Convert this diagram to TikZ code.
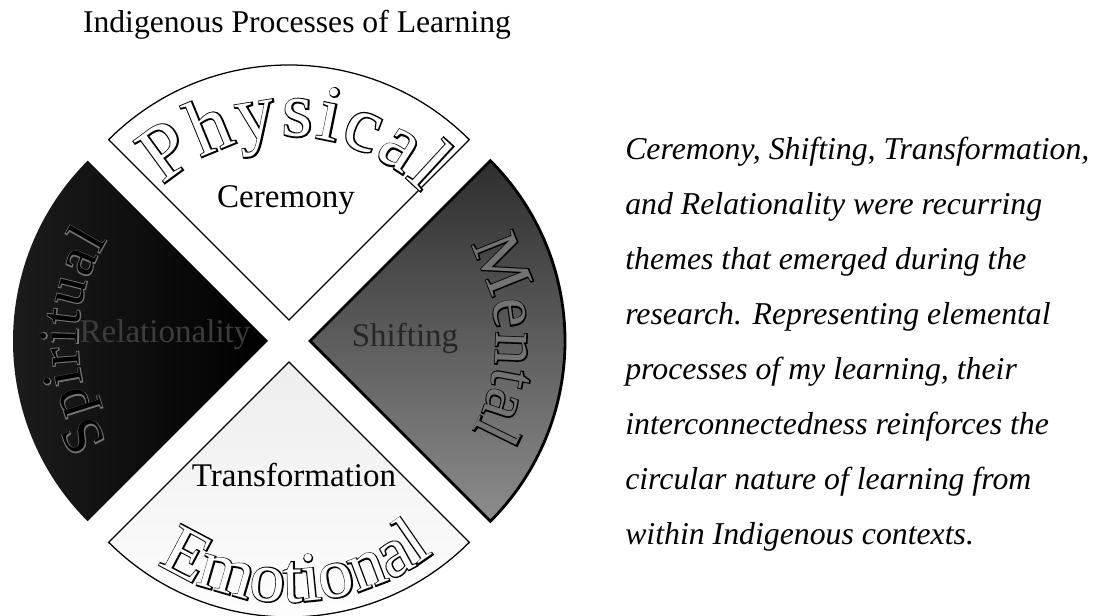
\documentclass[tikz,border=0pt]{standalone}
\usepackage{fontspec}
\setmainfont{Liberation Serif}
\newfontfamily\rimfat[FakeBold=3.5]{Liberation Serif}
\usetikzlibrary{decorations.text}

% rim letters: a stroked copy underneath, a plain copy on top
\newcommand{\rimthick}[1]{\rimfat\fontsize{#1}{#1}\selectfont}
\newcommand{\rimthin}[1]{\fontsize{#1}{#1}\selectfont}

\begin{document}
\begin{tikzpicture}[x=0.025cm,y=0.025cm,
    quarter/.style={draw=black,line width=0.9pt},
    theme/.style={anchor=base,inner sep=0pt,font=\fontsize{23.5}{27}\selectfont},
    para/.style={anchor=base west,inner sep=0pt,font=\fontsize{22.6}{26}\selectfont\itshape},
    arcword/.style={decorate,decoration={text along path,text align=fit to path,text={#1}}}]
  \useasboundingbox (0,0) rectangle (1096,616);

  \node (title) [anchor=base,inner sep=0pt,font=\fontsize{22.5}{26}\selectfont] at (297,583) {Indigenous Processes of Learning};

  % tips of the four quarters
  \coordinate (pt) at (289,296);
  \coordinate (pr) at (310,275);
  \coordinate (pb) at (289,254);
  \coordinate (pl) at (268,275);

  \path[quarter,fill=white] (pt) -- ++(45:255) arc[start angle=45,end angle=135,radius=255] -- cycle;
  \shadedraw[quarter,line width=2pt,top color=black!82,bottom color=black!45] (pr) -- ++(-45:255) arc[start angle=-45,end angle=45,radius=255] -- cycle;
  \shadedraw[quarter,top color=black!7,bottom color=white] (pb) -- ++(225:255) arc[start angle=225,end angle=315,radius=255] -- cycle;
  \shade[left color=black!88,right color=black] (pl) -- ++(135:255) arc[start angle=135,end angle=225,radius=255] -- cycle;

  % words round the rim
  \path[arcword={|\rimthick{56}\color{black}|Physical},shift={(pt)}] (133:184) arc[start angle=133,end angle=44,radius=184];
  \path[arcword={|\rimthin{56}\color{white}|Physical},shift={(pt)}] (133:184) arc[start angle=133,end angle=44,radius=184];
  \path[arcword={|\rimthick{47}\color{black}|Mental},shift={(pr)}] (31:186) arc[start angle=31,end angle=-29,radius=186];
  \path[arcword={|\rimthin{47}\color{black!55}|Mental},shift={(pr)}] (31:186) arc[start angle=31,end angle=-29,radius=186];
  \path[arcword={|\rimthick{50}\color{black}|Emotional},shift={(pb)}] (237:240) arc[start angle=237,end angle=307,radius=240];
  \path[arcword={|\rimthin{50}\color{white}|Emotional},shift={(pb)}] (237:240) arc[start angle=237,end angle=307,radius=240];
  \path[arcword={|\rimthick{40}\color{black!55}|Spiritual},shift={(pl)}] (212:190) arc[start angle=212,end angle=148,radius=190];
  \path[arcword={|\rimthin{40}\color{black}|Spiritual},shift={(pl)}] (212:190) arc[start angle=212,end angle=148,radius=190];

  \node (cer) [theme] at (286,408) {Ceremony};
  \node (shi) [theme,text=black!85] at (405,269) {Shifting};
  \node (tra) [theme] at (294,129) {Transformation};
  \node (rel) [theme,text=black!76] at (165,273) {Relationality};

  \foreach \txt [count=\i] in {{Ceremony, Shifting, Transformation,},
      {and Relationality were recurring},
      {themes that emerged during the},
      {research. Representing elemental},
      {processes of my learning, their},
      {interconnectedness reinforces the},
      {circular nature of learning from},
      {within Indigenous contexts.}}
    \node (line\i) [para] at (625,511-55*\i) {\txt};
\end{tikzpicture}
\end{document}
